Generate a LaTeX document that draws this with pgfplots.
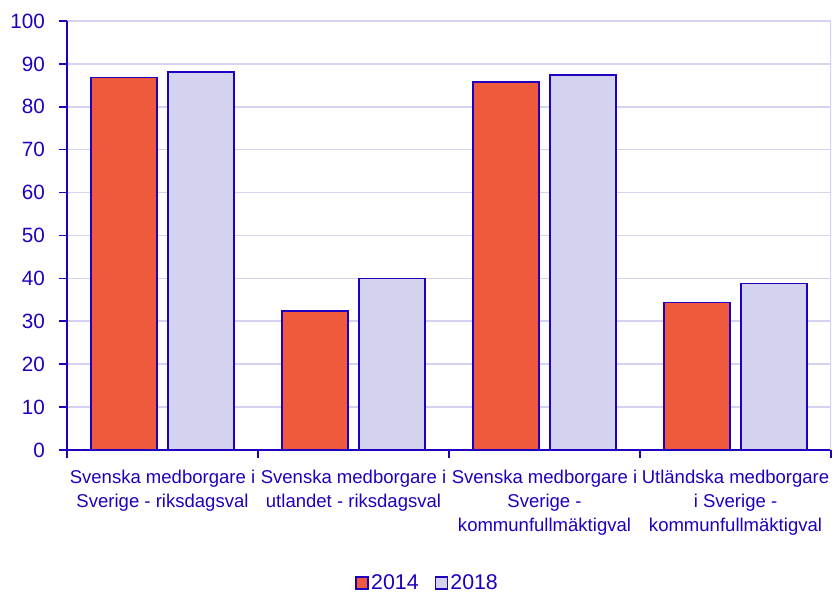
\documentclass[border=0pt]{standalone}
\usepackage{pgfplots}
\pgfplotsset{compat=1.18}
\usepackage{fontspec}
\setmainfont{Liberation Sans}
\definecolor{scbblue}{RGB}{30,0,190}
\definecolor{scbred}{RGB}{240,90,60}
\definecolor{scblav}{RGB}{211,211,240}
\begin{document}
\begin{tikzpicture}
\path[use as bounding box] (-50.25pt,-106.5pt) rectangle (579pt,337.5pt);
\begin{axis}[
  at={(0,0)}, anchor=south west, scale only axis,
  width=573pt, height=321.75pt,
  ybar=8.25pt, bar width=49.5pt,
  xmin=-0.5, xmax=3.5, ymin=0, ymax=100,
  ytick={0,10,...,100},
  axis x line*=bottom, axis y line*=left,
  axis line style={draw=scbblue, line width=1.4pt},
  tick align=outside, major tick length=6pt,
  tick style={draw=scbblue, line width=1.2pt},
  xtick={-0.5,0.5,1.5,2.5,3.5},
  xticklabels={,,,,},
  extra x ticks={0,1,2,3},
  extra x tick labels={{Svenska medborgare i\\Sverige - riksdagsval},{Svenska medborgare i\\utlandet - riksdagsval},{Svenska medborgare i\\Sverige -\\kommunfullmäktigval},{Utländska medborgare\\i Sverige -\\kommunfullmäktigval}},
  extra x tick style={major tick length=0pt, xticklabel style={align=center, font=\fontsize{13.9pt}{17.8pt}\selectfont, text=scbblue, inner sep=0pt, yshift=-15pt}},
  ymajorgrids, major grid style={draw=scblav, line width=1.2pt},
  yticklabel style={font=\fontsize{15.5pt}{18pt}\selectfont, text=scbblue, xshift=-7pt},
  /pgf/number format/assume math mode=true,
  legend style={at={(0.4725,-0.31)}, anchor=center, draw=none, fill=none,
    font=\fontsize{16pt}{18pt}\selectfont, text=scbblue, legend columns=2,
    /tikz/every even column/.append style={column sep=10pt}},
  legend image code/.code={\draw[#1, draw=scbblue, line width=0.8pt] (0pt,-4.5pt) rectangle (9pt,4.5pt);},
]
\addplot[fill=scbred, draw=scbblue, line width=0.9pt] coordinates {(0,86.9) (1,32.4) (2,85.8) (3,34.4)};
\addplot[fill=scblav, draw=scbblue, line width=0.9pt] coordinates {(0,88.1) (1,40.0) (2,87.4) (3,38.8)};
\legend{2014,2018}
\draw[scblav, line width=1.2pt] (rel axis cs:1,0) -- (rel axis cs:1,1);
\end{axis}
\end{tikzpicture}
\end{document}
